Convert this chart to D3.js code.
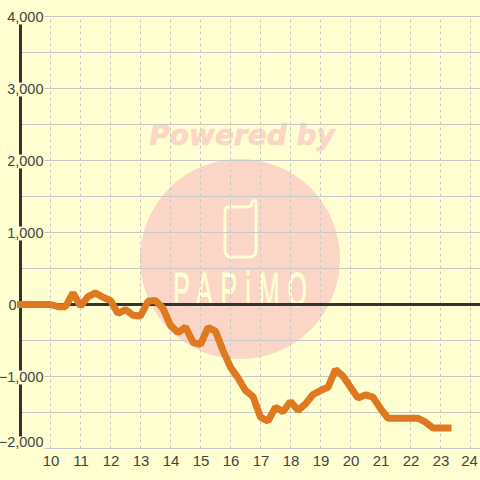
<!DOCTYPE html>
<html><head><meta charset="utf-8">
<script src="https://cdn.jsdelivr.net/npm/d3@7"></script>
<style>html,body{margin:0;padding:0;background:#FFFFD2}svg{display:block}</style>
</head><body><svg id="c" width="480" height="480"></svg>
<script>
const hours = [9,9.25,9.5,9.75,10,10.25,10.5,10.75,11,11.25,11.5,11.75,12,12.25,12.5,12.75,13,13.25,13.5,13.75,14,14.25,14.5,14.75,15,15.25,15.5,15.75,16,16.25,16.5,16.75,17,17.25,17.5,17.75,18,18.25,18.5,18.75,19,19.25,19.5,19.75,20,20.25,20.5,20.75,21,21.25,21.5,21.75,22,22.25,22.5,22.75,23,23.25];
const values = [0,0,0,0,0,-30,-30,160,-20,110,160,100,55,-125,-70,-150,-160,45,55,-55,-290,-390,-315,-525,-555,-320,-370,-640,-870,-1020,-1195,-1280,-1565,-1620,-1425,-1490,-1347,-1470,-1380,-1250,-1195,-1150,-903,-995,-1150,-1300,-1255,-1287,-1445,-1580,-1580,-1580,-1580,-1580,-1635,-1715,-1715,-1715];
const xTicks = [10,11,12,13,14,15,16,17,18,19,20,21,22,23,24];
const yMajor = [-2000,-1000,0,1000,2000,3000,4000];
const yGrid = [-2000,-1500,-1000,-500,500,1000,1500,2000,2500,3000,3500,4000];

const BG="#FFFFD2", GRID="#C8C8C8", INK="#444440", AXIS="#333330", LINE="#DE7920", WM="#FBD5C5";
const FONT="'Liberation Sans',Arial,sans-serif";
const svg=d3.select("#c");
const x=d3.scaleLinear().domain([9,24]).range([20.5,470.5]);
const y=d3.scaleLinear().domain([-2000,4000]).range([448.5,16.5]);
svg.append("rect").attr("width",480).attr("height",480).attr("fill",BG);

// watermark
const wm=svg.append("g");
wm.append("circle").attr("cx",240).attr("cy",259).attr("r",100).attr("fill",WM);
wm.append("text").attr("x",242).attr("y",145).attr("text-anchor","middle")
  .attr("font-family","'DejaVu Sans'").attr("font-weight","bold").attr("font-style","italic")
  .attr("font-size",28).attr("fill",WM).attr("stroke",WM).attr("stroke-width",0.6).text("Powered by");
wm.append("path").attr("fill","none").attr("stroke",BG).attr("stroke-width",3).attr("stroke-linejoin","round")
  .attr("d","M229 207H247Q251 207 252 204V202Q254 199 256 202V250Q256 257 250 257H231Q225 257 225 250V211Q225 207 229 207Z");
wm.append("text").attr("text-anchor","middle")
  .attr("transform","translate(240,306) scale(1.25,2.45)")
  .attr("font-family","'Liberation Sans'").attr("font-size",20).attr("fill",BG)
  .attr("stroke",BG).attr("stroke-width",0.4)
  .attr("textLength",107).attr("lengthAdjust","spacing").text("PAPiMO");

// grid
const gx=svg.append("g").attr("transform","translate(0,448.5)")
  .call(d3.axisBottom(x).offset(0).tickValues(xTicks).tickSize(-432).tickFormat(""));
gx.select(".domain").remove();
gx.selectAll("line").attr("stroke",GRID).attr("stroke-width",1).attr("stroke-dasharray","3 3");
const gy=svg.append("g").attr("transform","translate(480,0)")
  .call(d3.axisLeft(y).offset(0).tickValues(yGrid).tickSize(460).tickFormat(""));
gy.select(".domain").remove();
gy.selectAll("line").attr("stroke",GRID).attr("stroke-width",1);

// axes lines
svg.append("line").attr("x1",x(9)).attr("x2",x(9)).attr("y1",y(4000)).attr("y2",y(-2000))
  .attr("stroke",AXIS).attr("stroke-width",3);
svg.append("line").attr("x1",x(9)).attr("x2",480).attr("y1",y(0)).attr("y2",y(0))
  .attr("stroke",AXIS).attr("stroke-width",3);

// y labels with background
const fmt=d3.format(",");
const yl=svg.append("g").attr("transform","translate(44,0)")
  .call(d3.axisLeft(y).offset(0).tickValues(yMajor).tickSize(0).tickPadding(0).tickFormat(fmt));
yl.select(".domain").remove();
yl.selectAll("text").attr("font-family",FONT).attr("font-size",14.5).attr("fill",INK)
  .attr("dy",null).attr("dominant-baseline","auto")
  .attr("x",d=>d===0?-27.5:-0.5).attr("y",d=>d===-2000?-1.5:5.5);
yl.selectAll(".tick").filter(d=>d!==0).each(function(d){
  const g=d3.select(this), w=g.select("text").node().getComputedTextLength();
  const top=d===-2000?-12:(d===4000?-8:-6), h=d===-2000?13:(d===4000?16:14);
  g.insert("rect","text").attr("x",-w-1).attr("y",top).attr("width",w+1.5).attr("height",h).attr("fill",BG);
});

// x labels
const xl=svg.append("g").attr("transform","translate(0,448.5)")
  .call(d3.axisBottom(x).offset(0).tickValues(xTicks).tickSize(0).tickPadding(0));
xl.select(".domain").remove();
xl.selectAll("text").attr("font-family",FONT).attr("font-size",15).attr("fill",INK)
  .attr("dy",null).attr("y",17).attr("dx",d=>d===24?-1:0.5);

// series
const line=d3.line().x((d,i)=>x(hours[i])).y(d=>y(d));
svg.append("path").datum(values).attr("d",line).attr("fill","none").attr("stroke",LINE)
  .attr("stroke-width",7).attr("stroke-linejoin","bevel").attr("stroke-linecap","square");
</script></body></html>
